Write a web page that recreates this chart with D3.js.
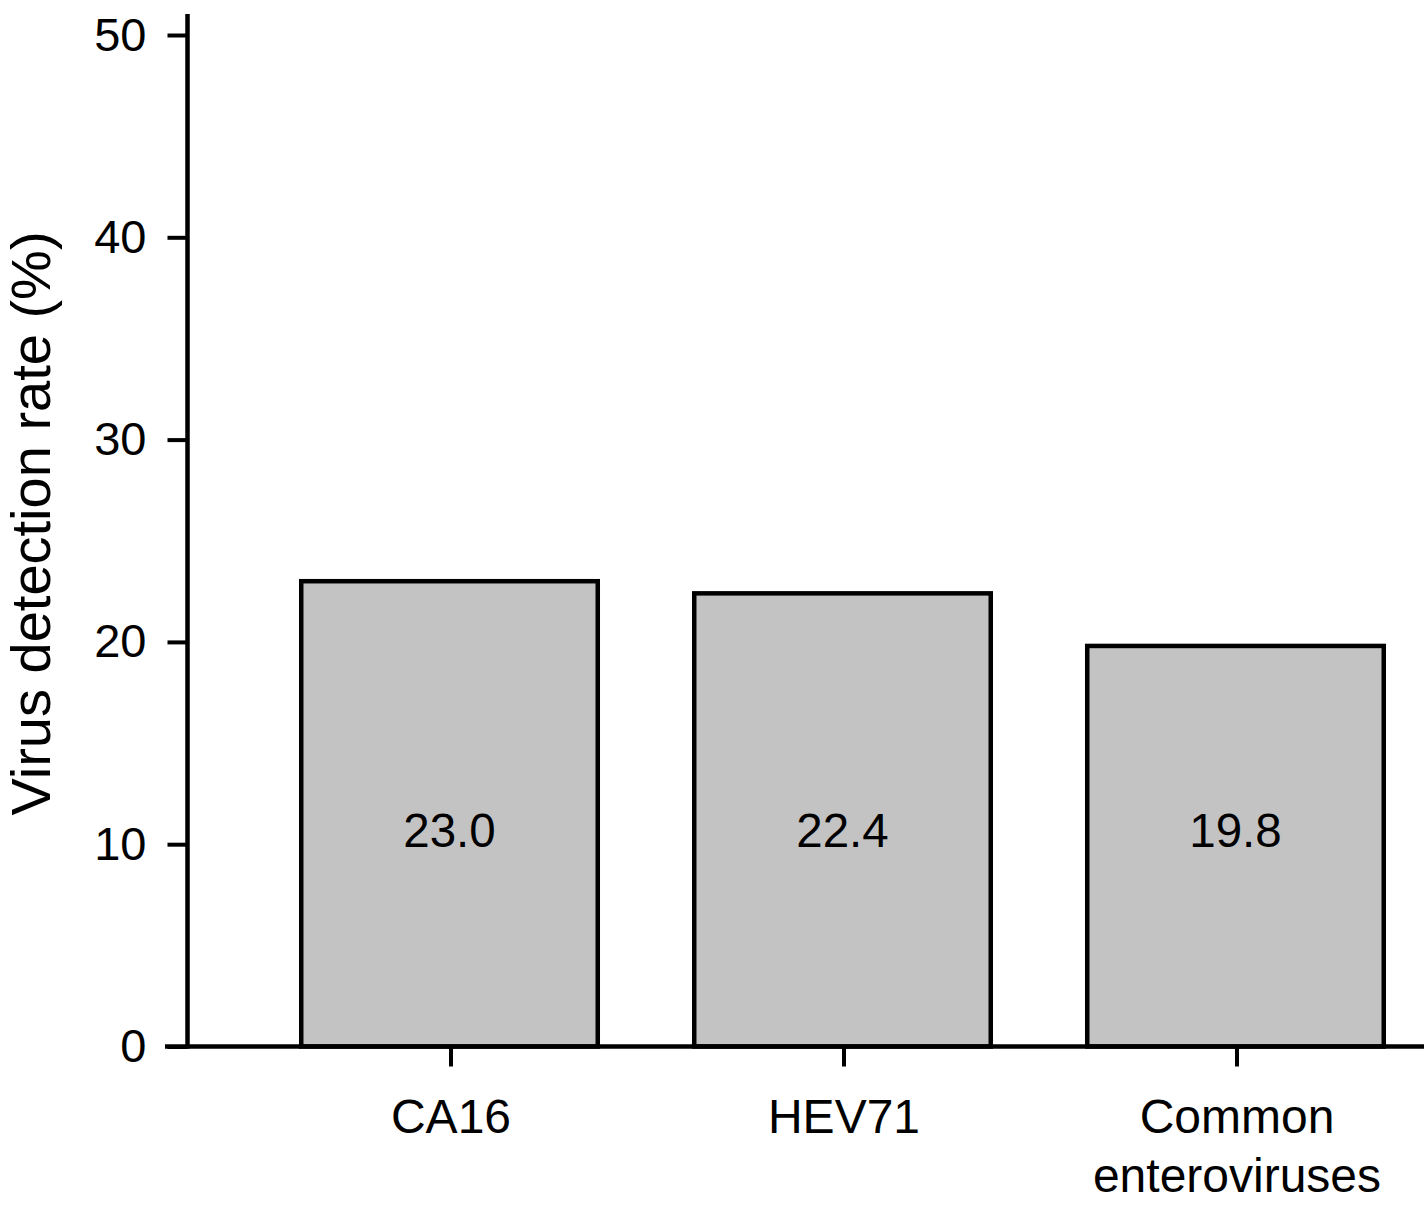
<!DOCTYPE html>
<html>
<head>
<meta charset="utf-8">
<script src="https://cdn.jsdelivr.net/npm/d3@7"></script>
<style>
  html, body { margin: 0; padding: 0; background: #fff; }
  svg { display: block; }
  text { font-family: "Liberation Sans", Arial, Helvetica, sans-serif; fill: #000; }
</style>
</head>
<body>
<svg id="chart" width="1424" height="1215"></svg>
<script>
const categories = ["CA16", "HEV71", "Common enteroviruses"];
const categoryLines = [["CA16"], ["HEV71"], ["Common", "enteroviruses"]];
const values = [23.0, 22.4, 19.8];
const valueLabels = ["23.0", "22.4", "19.8"];
const yTicks = [0, 10, 20, 30, 40, 50];
const yTitle = "Virus detection rate (%)";

const svg = d3.select("#chart");

const y = d3.scaleLinear().domain([0, 50]).range([1046.5, 35]);
const x = d3.scaleBand().domain(categories).range([253, 1432])
  .paddingInner(0.2455).paddingOuter(0.12275);

const axisX0 = 187.5;
const baseY = y(0);

// bars
svg.append("g").selectAll("rect").data(values).join("rect")
  .attr("x", (d, i) => x(categories[i]))
  .attr("y", d => y(d))
  .attr("width", x.bandwidth())
  .attr("height", d => baseY - y(d))
  .attr("fill", "#c3c3c3")
  .attr("stroke", "#000")
  .attr("stroke-width", 4.5);

// value labels
svg.append("g").selectAll("text").data(valueLabels).join("text")
  .attr("x", (d, i) => x(categories[i]) + x.bandwidth() / 2)
  .attr("y", 847)
  .attr("text-anchor", "middle")
  .attr("font-size", 47.5)
  .text(d => d);

// y axis
const yAxis = d3.axisLeft(y).tickValues(yTicks).tickSize(20).tickPadding(21)
  .tickFormat(d3.format("d"));
const gy = svg.append("g").attr("transform", `translate(${axisX0},0)`).call(yAxis);
gy.select(".domain").remove();
gy.selectAll(".tick line").attr("stroke", "#000").attr("stroke-width", 4);
gy.selectAll(".tick text").attr("font-size", 47).attr("fill", "#000")
  .attr("font-family", '"Liberation Sans", Arial, sans-serif');
svg.append("line")
  .attr("x1", axisX0).attr("x2", axisX0)
  .attr("y1", 14).attr("y2", baseY + 2)
  .attr("stroke", "#000").attr("stroke-width", 4.5);

// x axis
svg.append("line")
  .attr("x1", 165).attr("x2", 1424)
  .attr("y1", baseY).attr("y2", baseY)
  .attr("stroke", "#000").attr("stroke-width", 4.5);
const gx = svg.append("g");
gx.selectAll("line").data(categories).join("line")
  .attr("x1", d => x(d) + x.bandwidth() / 2 + 1.5)
  .attr("x2", d => x(d) + x.bandwidth() / 2 + 1.5)
  .attr("y1", baseY).attr("y2", baseY + 20)
  .attr("stroke", "#000").attr("stroke-width", 4);
gx.selectAll("text").data(categories).join("text")
  .attr("x", d => x(d) + x.bandwidth() / 2 + 1.5)
  .attr("y", 1133)
  .attr("text-anchor", "middle")
  .attr("font-size", 48)
  .each(function(d, i) {
    d3.select(this).selectAll("tspan").data(categoryLines[i]).join("tspan")
      .attr("x", x(d) + x.bandwidth() / 2 + 1.5)
      .attr("dy", (t, j) => j === 0 ? 0 : 59)
      .text(t => t);
  });

// y title
svg.append("text")
  .attr("transform", `translate(50,523.5) rotate(-90)`)
  .attr("text-anchor", "middle")
  .attr("font-size", 56)
  .text(yTitle);
</script>
</body>
</html>
